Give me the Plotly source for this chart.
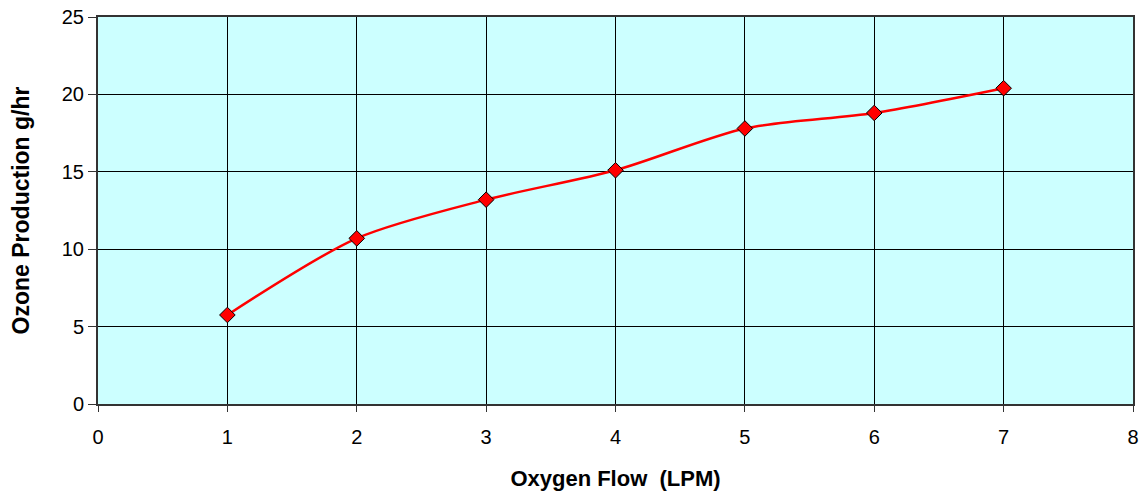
import plotly.graph_objects as go

oxygen_flow = [1, 2, 3, 4, 5, 6, 7]
ozone_production = [5.75, 10.7, 13.2, 15.1, 17.8, 18.8, 20.4]
x_ticks = [0, 1, 2, 3, 4, 5, 6, 7, 8]
y_ticks = [0, 5, 10, 15, 20, 25]

fig = go.Figure()
fig.add_trace(go.Scatter(
    x=oxygen_flow, y=ozone_production,
    mode="lines+markers",
    line=dict(color="#FF0000", width=2.5, shape="spline", smoothing=0.8),
    marker=dict(symbol="diamond", size=12, color="#FF0000",
                line=dict(color="#000000", width=1)),
    showlegend=False,
))

font_family = "Liberation Sans, Arial, sans-serif"
fig.update_layout(
    width=1140, height=491,
    margin=dict(l=98, r=7, t=17, b=87),
    paper_bgcolor="white",
    plot_bgcolor="#CCFFFF",
    font=dict(family=font_family, size=20, color="#000000"),
    xaxis=dict(
        range=[0, 8], tickvals=x_ticks, ticktext=[str(v) for v in x_ticks],
        showgrid=True, gridcolor="#000000", gridwidth=1,
        showline=True, linecolor="#333333", linewidth=2, mirror=True,
        ticks="outside", ticklen=6, tickcolor="#333333",
        ticklabelstandoff=8,
        zeroline=False, automargin=False,
        tickfont=dict(size=20),
        title=dict(text="<b>Oxygen Flow  (LPM)</b>", font=dict(size=22), standoff=24),
    ),
    yaxis=dict(
        range=[0, 25], tickvals=y_ticks, ticktext=[str(v) for v in y_ticks],
        showgrid=True, gridcolor="#000000", gridwidth=1,
        showline=True, linecolor="#333333", linewidth=2, mirror=True,
        ticks="outside", ticklen=8, tickcolor="#333333",
        zeroline=False, automargin=False,
        tickfont=dict(size=20),
        title=dict(text="<b>Ozone Production g/hr</b>", font=dict(size=23), standoff=26),
    ),
)

fig.write_html(
    "out.html",
    config={"displayModeBar": False},
    post_script="document.body.style.margin='0';document.body.style.overflow='hidden';",
)
